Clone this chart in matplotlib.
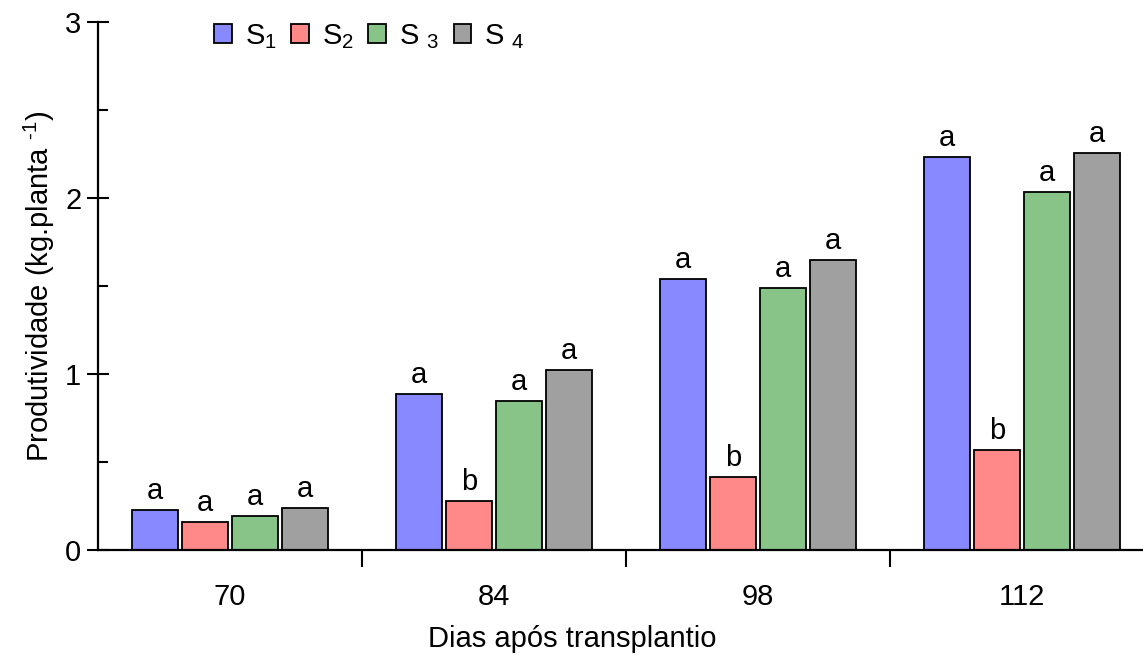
import numpy as np
import matplotlib.pyplot as plt

plt.rcParams["font.family"] = ["Liberation Sans", "DejaVu Sans"]
plt.rcParams["mathtext.fontset"] = "custom"
plt.rcParams["mathtext.rm"] = "Liberation Sans"
plt.rcParams["mathtext.it"] = "Liberation Sans"
plt.rcParams["mathtext.default"] = "regular"

FS = 21

days = ["70", "84", "98", "112"]
series = ["S$_1$", "S$_2$", "S $_3$", "S $_4$"]
colors = ["#8888ff", "#ff8888", "#88c488", "#a0a0a0"]

s1 = [0.227, 0.886, 1.540, 2.235]
s2 = [0.159, 0.278, 0.415, 0.568]
s3 = [0.193, 0.847, 1.489, 2.032]
s4 = [0.239, 1.023, 1.648, 2.257]

l1 = ["a", "a", "a", "a"]
l2 = ["a", "b", "b", "b"]
l3 = ["a", "a", "a", "a"]
l4 = ["a", "a", "a", "a"]

values = [s1, s2, s3, s4]
letters = [l1, l2, l3, l4]

fig = plt.figure(figsize=(11.43, 6.56), dpi=100)
ax = fig.add_axes([98 / 1143, 106 / 656, 1056 / 1143, 528 / 656])

x = np.arange(len(days))
pitch = 50 / 264
width = 46 / 264
for i, (vals, lab, col, let) in enumerate(zip(values, series, colors, letters)):
    pos = x + (i - 1.5) * pitch
    ax.bar(pos, vals, width=width, color=col, edgecolor="black",
           linewidth=1.3, label=lab, zorder=2)
    for px, v, t in zip(pos, vals, let):
        ax.annotate(t, (px, v), xytext=(0, 8), textcoords="offset points",
                    ha="center", va="baseline", fontsize=FS)

ax.set_xlim(-0.5, 3.5)
ax.set_ylim(0, 3)

ax.set_xticks(x)
ax.set_xticklabels(days, fontsize=FS)
ax.set_xticks(x[:-1] + 0.5, minor=True)
ax.tick_params(axis="x", which="major", length=0, pad=24)
ax.tick_params(axis="x", which="minor", length=12, width=1.5, direction="out")

ax.set_yticks([0, 1, 2, 3])
ax.set_yticks([0.5, 1.5, 2.5], minor=True)
ax.tick_params(axis="y", which="major", labelsize=FS, length=16,
               width=1.5, direction="inout", pad=4)
ax.tick_params(axis="y", which="minor", length=7, width=1.5, direction="in")

for side in ("top", "right"):
    ax.spines[side].set_visible(False)
for side in ("left", "bottom"):
    ax.spines[side].set_linewidth(1.6)

ax.set_xlabel("Dias após transplantio", fontsize=FS, labelpad=10)
ax.xaxis.set_label_coords(0.449, -0.142)
ax.set_ylabel("Produtividade (kg.planta $^{\\text{-}1}$)", fontsize=FS, labelpad=6)

ax.legend(loc="upper left", bbox_to_anchor=(0.085, 1.05), ncol=4,
          frameon=False, fontsize=FS, handlelength=0.6, handleheight=0.6,
          handletextpad=0.45, columnspacing=0.5)

fig.savefig("out.png", dpi=100)
